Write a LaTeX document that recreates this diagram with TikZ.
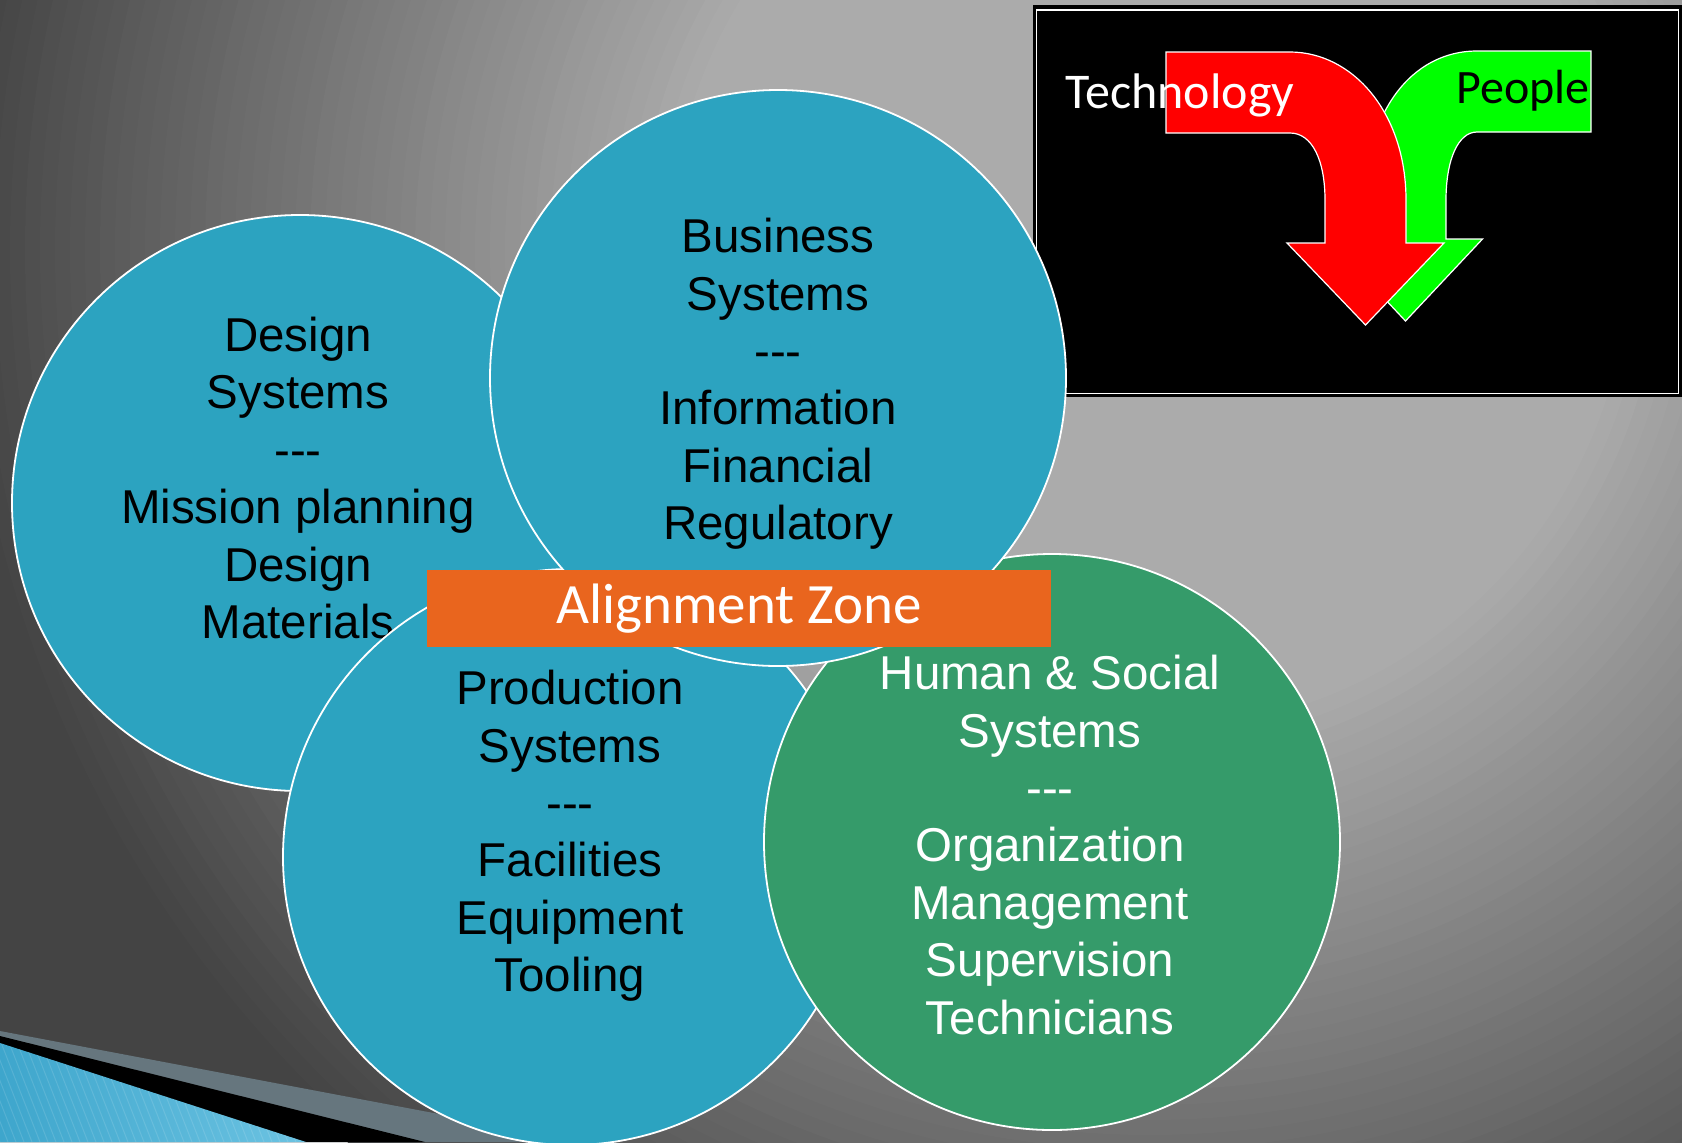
\documentclass[tikz,border=0pt]{standalone}
\usepackage{fontspec}
\newfontfamily\circfont[Ligatures=TeXOff]{Liberation Sans}
\newfontfamily\calfont{Carlito}
\definecolor{bglight}{HTML}{ABABAB}
\definecolor{bgdark}{HTML}{444444}
\definecolor{cblue}{HTML}{2CA3C0}
\definecolor{cgreen}{HTML}{359B6A}
\definecolor{zoneorange}{HTML}{E9651E}
\definecolor{arrred}{HTML}{FF0000}
\definecolor{arrgreen}{HTML}{00FF00}
\definecolor{swblue}{HTML}{3EA6CC}
\definecolor{swblue2}{HTML}{6CC3E2}
\definecolor{swgray}{HTML}{66767E}
\begin{document}
\begin{tikzpicture}[x=0.5pt,y=-0.5pt,
  venn/.style={circle, draw=white, line width=0.9pt, minimum size=288pt, inner sep=0pt},
  bluevenn/.style={venn, fill=cblue},
  greenvenn/.style={venn, fill=cgreen},
  vtext/.style={align=center, font=\circfont\fontsize{23.75}{28.7}\selectfont, inner sep=0pt},
  bigarrow/.style={draw=white, line width=0.6pt, line join=miter},
  arrlabel/.style={inner sep=0pt, font=\calfont\fontsize{25}{30}\selectfont},
  zone/.style={fill=zoneorange, text=white, inner sep=0pt, minimum width=312pt, minimum height=38.5pt, font=\calfont\fontsize{28.5}{34}\selectfont},
]
\useasboundingbox (0,0) rectangle (1682,1142);
\clip (0,0) rectangle (1682,1142);
% background (stepped radial gradient)
\fill[bgdark] (0,0) rectangle (1682,1142);
\foreach \k in {0,...,48} {
  \pgfmathsetmacro\rad{1200-\k*15}
  \pgfmathsetmacro\pc{100*\k/48}
  \fill[bglight!\pc!bgdark] (1150,250) circle (\rad);
}
% bottom-left swoosh
\fill[swgray] (0,1031) -- (460,1118) -- (580,1142) -- (0,1142) -- cycle;
\fill[black] (0,1036) -- (425,1142) -- (0,1142) -- cycle;
\begin{scope}
  \clip (0,1043) -- (306,1142) -- (0,1142) -- cycle;
  \shade[left color=swblue, right color=swblue2] (0,1040) rectangle (306,1142);
  \foreach \i in {-40,-32,...,320} \draw[white, opacity=0.12, line width=0.5pt] (\i,1040) -- ++(40,102);
\end{scope}
% technology / people box
\node[fill=black, inner sep=0pt, minimum width=324.5pt, minimum height=196pt, anchor=north west] (techbox) at (1033,5) {};
\draw[white, line width=0.8pt] (1036.5,10) rectangle (1678.5,393.5);
% green arrow
\path[bigarrow, fill=arrgreen] (1591,51) -- (1477,51) .. controls (1410,51) and (1365,115) .. (1365,200) -- (1365,239) -- (1328.5,239) -- (1405.5,321) -- (1482.5,239) -- (1446,239) -- (1446,200) .. controls (1446,160) and (1458,132) .. (1477,132) -- (1591,132) -- cycle;
% red arrow
\path[bigarrow, fill=arrred] (1166,52) -- (1290,52) .. controls (1352,52) and (1406,112) .. (1406,200) -- (1406,243) -- (1444,243) -- (1365.5,325) -- (1287,243) -- (1325,243) -- (1325,200) .. controls (1325,160) and (1312,133) .. (1290,133) -- (1166,133) -- cycle;
\node[arrlabel, text=white, anchor=base west] (tech) at (1065,108) {Technology};
\node[arrlabel, text=black, anchor=base west, font=\calfont\fontsize{24}{29}\selectfont] (people) at (1456,103) {People};
% circles
\node[bluevenn] (c1) at (300,503) {};
\node[vtext, text=black] (t1) at (298,478) {Design\\Systems\\---\\Mission planning\\Design\\Materials};
\node[bluevenn] (c3) at (571,857) {};
\node[vtext, text=black] (t3) at (570,836) {Production\\Systems\\---\\Facilities\\Equipment\\Tooling};
\node[greenvenn] (c4) at (1052,842) {};
\node[vtext, text=white] (t4) at (1050,845) {Human \& Social\\Systems\\---\\Organization\\Management\\Supervision\\Technicians};
\node[bluevenn] (c2) at (778,378) {};
\node[vtext, text=black] (t2) at (778,384) {Business\\Systems\\---\\Information\\Financial\\Regulatory};
% alignment zone
\node[zone] (zone) at (739,608.5) {Alignment Zone};
\end{tikzpicture}
\end{document}
